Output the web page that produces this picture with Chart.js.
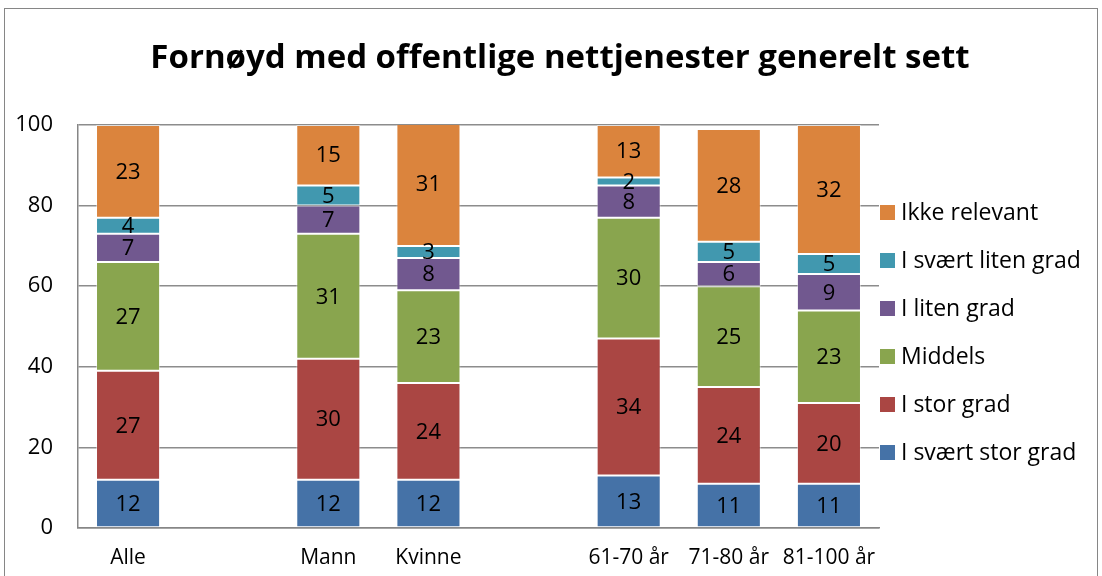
<!DOCTYPE html>
<html>
<head>
<meta charset="utf-8">
<script src="https://cdn.jsdelivr.net/npm/chart.js@4/dist/chart.umd.min.js"></script>
<style>
    body { margin: 0; background: #fff; overflow: hidden; }
    #frame { position: absolute; left: 4px; top: 8px; width: 1092px; height: 600px;
             border: 1px solid #868686; }
    #chart { position: absolute; left: 0; top: 0; }
</style>
</head>
<body>
<div id="frame"><canvas id="chart" width="1110" height="567"></canvas></div>
<script>
const categories = ["Alle", "", "Mann", "Kvinne", "", "61-70 år", "71-80 år", "81-100 år"];
const seriesNames = ["I svært stor grad", "I stor grad", "Middels", "I liten grad", "I svært liten grad", "Ikke relevant"];
const seriesColors = ["#4572A7", "#AA4643", "#89A54E", "#71588F", "#4198AF", "#DB843D"];

const sværtStor = [12, null, 12, 12, null, 13, 11, 11];
const stor = [27, null, 30, 24, null, 34, 24, 20];
const middels = [27, null, 31, 23, null, 30, 25, 23];
const liten = [7, null, 7, 8, null, 8, 6, 9];
const sværtLiten = [4, null, 5, 3, null, 2, 5, 5];
const ikkeRelevant = [23, null, 15, 31, null, 13, 28, 32];

const yTicks = [0, 20, 40, 60, 80, 100];
const seriesValues = [sværtStor, stor, middels, liten, sværtLiten, ikkeRelevant];

const FONT = "'Open Sans', 'Noto Sans', sans-serif";

// value labels in the middle of each segment
const segmentLabels = {
    id: "segmentLabels",
    afterDatasetsDraw(chart) {
        const ctx = chart.ctx;
        ctx.save();
        ctx.font = "22px " + FONT;
        ctx.fillStyle = "#000";
        ctx.textAlign = "center";
        ctx.textBaseline = "middle";
        chart.data.datasets.forEach((ds, i) => {
            chart.getDatasetMeta(i).data.forEach((bar, j) => {
                const v = ds.data[j];
                if (v == null) return;
                const p = bar.getCenterPoint();
                ctx.fillText(String(v), p.x, p.y + 1);
            });
        });
        ctx.restore();
    }
};

// legend to the right of the plot, top item = last series
const sideLegend = {
    id: "sideLegend",
    afterDraw(chart) {
        const ctx = chart.ctx;
        const area = chart.chartArea;
        const x = area.right + 1;
        ctx.save();
        ctx.font = "23px " + FONT;
        ctx.textBaseline = "middle";
        ctx.textAlign = "left";
        const sets = chart.data.datasets.slice().reverse();
        sets.forEach((ds, i) => {
            const cy = area.top + 87 + i * 48;
            ctx.fillStyle = ds.backgroundColor;
            ctx.fillRect(x, cy - 7, 15, 15);
            ctx.fillStyle = "#000";
            ctx.fillText(ds.label, x + 21, cy + 1);
        });
        ctx.restore();
    }
};

const datasets = seriesNames.map((name, i) => ({
    label: name,
    data: seriesValues[i],
    backgroundColor: seriesColors[i],
    borderColor: "rgba(255,255,255,0.45)",
    borderWidth: 1,
    borderSkipped: false,
    categoryPercentage: 1,
    barPercentage: 0.64,
}));

new Chart(document.getElementById("chart"), {
    type: "bar",
    data: { labels: categories, datasets: datasets },
    options: {
        responsive: false,
        animation: false,
        devicePixelRatio: 1,
        layout: { padding: 0 },
        plugins: {
            legend: { display: false },
            tooltip: { enabled: false },
            title: {
                display: true,
                text: "Fornøyd med offentlige nettjenester generelt sett",
                color: "#000",
                font: { family: FONT, size: 33, weight: "bold" },
                padding: { top: 30, bottom: 46.4 },
            },
        },
        scales: {
            x: {
                stacked: true,
                grid: { display: false, drawTicks: false },
                border: { display: true, color: "#868686", width: 1.5 },
                ticks: { color: "#000", font: { family: FONT, size: 21 }, padding: 17, maxRotation: 0, autoSkip: false },
                afterFit: (s) => { s.height = 48; },
            },
            y: {
                stacked: true,
                min: 0,
                max: 100,
                afterBuildTicks: (s) => { s.ticks = yTicks.map(v => ({ value: v })); },
                grid: { color: "#8c8c8c", lineWidth: 1.5, drawTicks: false },
                border: { display: true, color: "#868686", width: 1.5 },
                ticks: { color: "#000", font: { family: FONT, size: 22 }, padding: 25 },
                afterFit: (s) => { s.width = 73; },
            },
            pad: {
                position: "right",
                display: true,
                grid: { display: false, drawTicks: false },
                border: { display: false },
                ticks: { display: false },
                afterFit: (s) => { s.width = 236; },
            },
        },
    },
    plugins: [segmentLabels, sideLegend],
});
</script>
</body>
</html>
